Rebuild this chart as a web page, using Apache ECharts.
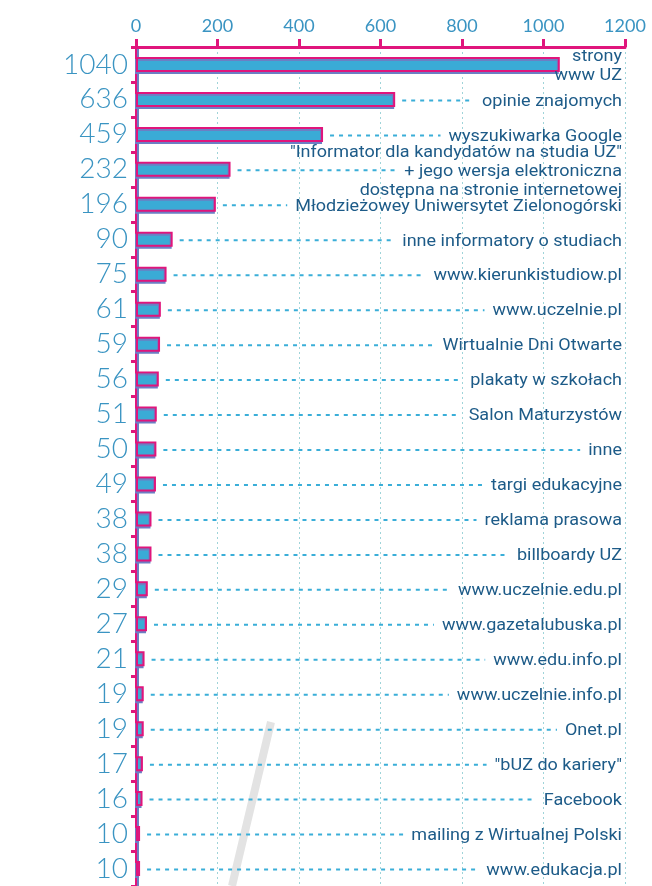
<!DOCTYPE html>
<html>
<head>
<meta charset="utf-8">
<script src="https://cdn.jsdelivr.net/npm/echarts@6/dist/echarts.min.js"></script>
<style>
  html, body { margin: 0; padding: 0; background: #fff; }
  #chart { width: 652px; height: 886px; }
</style>
</head>
<body>
<div id="chart"></div>
<script>
// źródła informacji o UZ
const categories = [
  'strony\nwww UZ',
  'opinie znajomych',
  'wyszukiwarka Google',
  '"Informator dla kandydatów na studia UZ"\n+ jego wersja elektroniczna\ndostępna na stronie internetowej',
  'Młodzieżowey Uniwersytet Zielonogórski',
  'inne informatory o studiach',
  'www.kierunkistudiow.pl',
  'www.uczelnie.pl',
  'Wirtualnie Dni Otwarte',
  'plakaty w szkołach',
  'Salon Maturzystów',
  'inne',
  'targi edukacyjne',
  'reklama prasowa',
  'billboardy UZ',
  'www.uczelnie.edu.pl',
  'www.gazetalubuska.pl',
  'www.edu.info.pl',
  'www.uczelnie.info.pl',
  'Onet.pl',
  '"bUZ do kariery"',
  'Facebook',
  'mailing z Wirtualnej Polski',
  'www.edukacja.pl'
];
const values = [1040, 636, 459, 232, 196, 90, 75, 61, 59, 56, 51, 50, 49, 38, 38, 29, 27, 21, 19, 19, 17, 16, 10, 10];
const xTicks = [0, 200, 400, 600, 800, 1000, 1200];

const pink = '#e0157c';
const barBlue = '#3aabd6';
const numBlue = '#3a94c2';
const textBlue = '#1d5b88';
const labelFont = '17px Roboto';
const stretch = 1.06;

// do mierzenia szerokosci tekstu
const ctx = document.createElement('canvas').getContext('2d');
ctx.font = labelFont;
function dashLine(label) {
  const lines = label.split('\n');
  if (lines.length === 2) return null;
  return lines[Math.floor(lines.length / 2)];
}

const chart = echarts.init(document.getElementById('chart'));
chart.setOption({
  animation: false,
  grid: { left: 136, right: 27, top: 47, bottom: 0 },
  xAxis: {
    type: 'value',
    position: 'top',
    min: xTicks[0],
    max: xTicks[xTicks.length - 1],
    interval: 200,
    axisLine: { show: true, lineStyle: { color: pink, width: 3 } },
    axisTick: { show: true, length: 8, lineStyle: { color: pink, width: 3 } },
    axisLabel: { color: numBlue, fontSize: 18, fontFamily: 'Lato', margin: 12, formatter: v => String(v) },
    splitLine: { show: true, lineStyle: { color: '#9fd4d9', type: [2, 3], width: 1 } }
  },
  yAxis: {
    type: 'category',
    inverse: true,
    data: categories,
    axisLine: { show: true, lineStyle: { color: pink, width: 2, shadowColor: '#6c7fc4', shadowOffsetX: 2 } },
    axisTick: { show: true, length: 5, interval: 0, lineStyle: { color: pink, width: 3 } },
    axisLabel: {
      color: numBlue, fontSize: 28, fontFamily: 'Lato', fontWeight: 300, margin: 8, interval: 0,
      formatter: (v, i) => String(values[i])
    }
  },
  graphic: [{
    type: 'line', silent: true, z: -1,
    shape: { x1: 271, y1: 722, x2: 232, y2: 886 },
    style: { stroke: '#e3e3e3', lineWidth: 8 }
  }],
  series: [{
    type: 'bar',
    data: values,
    barWidth: 15,
    z: 3,
    itemStyle: {
      color: barBlue,
      borderColor: pink,
      borderWidth: 2,
      shadowColor: '#6c7fc4',
      shadowOffsetX: -1,
      shadowOffsetY: 2
    }
  }, {
    type: 'custom',
    clip: false,
    z: 4,
    data: values.map((v, i) => [v, i]),
    encode: { x: 0, y: 1 },
    renderItem(params, api) {
      const i = api.value(1);
      const end = api.coord([api.value(0), i]);
      const right = api.coord([1200, i])[0] - 3;
      const label = categories[i];
      const children = [{
        type: 'text',
        x: right,
        y: end[1] + 2,
        scaleX: stretch,
        style: {
          text: label, x: 0, y: 0,
          align: 'right', verticalAlign: 'middle',
          font: labelFont, fill: textBlue, lineHeight: 19
        }
      }];
      const dl = dashLine(label);
      if (dl) {
        const x1 = end[0] + 7;
        const x2 = right - ctx.measureText(dl).width * stretch - 8;
        if (x2 - x1 > 6) {
          children.push({
            type: 'line',
            shape: { x1: x1, y1: end[1] + 1, x2: x2, y2: end[1] + 1 },
            style: { stroke: '#3aaed8', lineWidth: 2, lineDash: [4, 5] }
          });
        }
      }
      return { type: 'group', children: children };
    }
  }]
});
</script>
</body>
</html>
